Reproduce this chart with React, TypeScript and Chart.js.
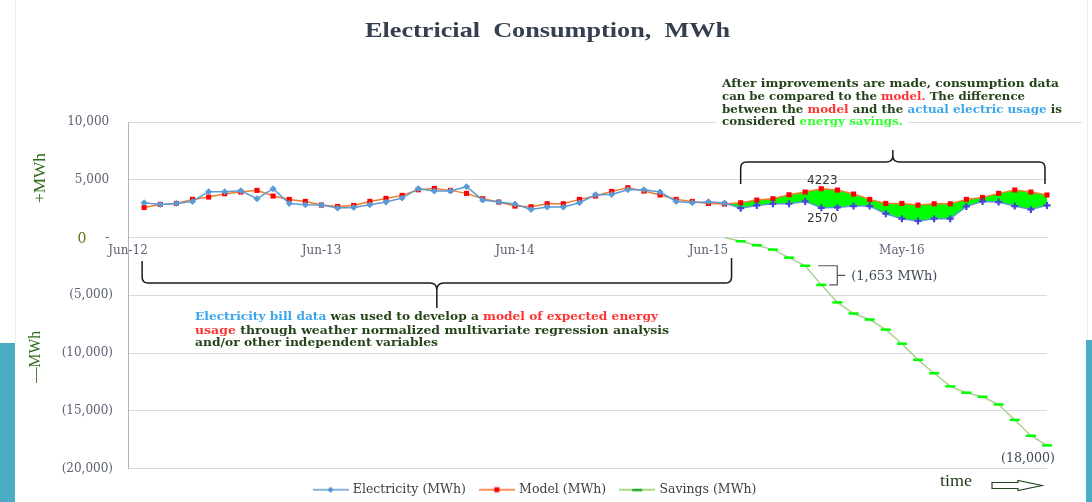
import React, { useEffect, useRef } from "react";
import { Chart, registerables } from "chart.js";

Chart.register(...registerables);

// ---------- data ----------
const categories = [
  "Jun-12", "Jul-12", "Aug-12", "Sep-12", "Oct-12", "Nov-12", "Dec-12",
  "Jan-13", "Feb-13", "Mar-13", "Apr-13", "May-13", "Jun-13", "Jul-13", "Aug-13", "Sep-13", "Oct-13", "Nov-13", "Dec-13",
  "Jan-14", "Feb-14", "Mar-14", "Apr-14", "May-14", "Jun-14", "Jul-14", "Aug-14", "Sep-14", "Oct-14", "Nov-14", "Dec-14",
  "Jan-15", "Feb-15", "Mar-15", "Apr-15", "May-15", "Jun-15", "Jul-15", "Aug-15", "Sep-15", "Oct-15", "Nov-15", "Dec-15",
  "Jan-16", "Feb-16", "Mar-16", "Apr-16", "May-16", "Jun-16", "Jul-16", "Aug-16", "Sep-16", "Oct-16", "Nov-16", "Dec-16",
  "Jan-17", "Feb-17", "Mar-17",
];
const tickIndexes = [0, 12, 24, 36, 48];
const tickLabels = ["Jun-12", "Jun-13", "Jun-14", "Jun-15", "May-16"];

const electricity: (number | null)[] = [
  null, 3010, 2865, 2950, 3125, 3964, 3964, 4050, 3356, 4225, 2951, 2836,
  2807, 2546, 2604, 2836, 3067, 3414, 4225, 4020, 4020, 4400, 3240, 3067,
  2893, 2430, 2633, 2633, 3010, 3700, 3730, 4140, 4140, 3935, 3125, 3010,
  3095, 2980, 2540, 2780, 2920, 2920, 3125, 2570, 2600, 2720, 2720, 2060,
  1630, 1430, 1630, 1630, 2690, 3125, 3067, 2720, 2430, 2780,
];
const model: (number | null)[] = [
  null, 2604, 2865, 2951, 3299, 3501, 3790, 3935, 4080, 3588, 3299, 3125,
  2807, 2690, 2778, 3125, 3385, 3646, 4130, 4250, 4080, 3820, 3356, 3067,
  2720, 2660, 2922, 2922, 3300, 3590, 3990, 4310, 4020, 3680, 3300, 3125,
  2950, 2900, 3010, 3240, 3356, 3700, 3935, 4223, 4110, 3760, 3300, 2950,
  2950, 2807, 2920, 2920, 3300, 3470, 3820, 4110, 3935, 3680,
];
const savings: (number | null)[] = [
  null, null, null, null, null, null, null, null, null, null, null, null,
  null, null, null, null, null, null, null, null, null, null, null, null,
  null, null, null, null, null, null, null, null, null, null, null, null,
  null, 0, -323, -672, -1047, -1745, -2448, -4101, -5620, -6580, -7103, -7976,
  -9197, -10593, -11754, -12888, -13438, -13787, -14459, -15794, -17164, -18000,
];
const postStart = 37;
const labelIndex = 43;
const bracketIndex = 42;

// ---------- styles ----------
const DG = "#25441a";
const RED = "#ff3333";
const BLUE = "#3ba6ea";
const LIME = "#33ff33";
const TICK = "#5d6374";
const GRID = "#d9d9e3";

type Run = { t: string; c: string };

function drawRuns(
  ctx: CanvasRenderingContext2D,
  runs: Run[],
  x: number,
  y: number,
  width: number | null,
  font: string,
  align: "left" | "center" = "left",
) {
  ctx.save();
  ctx.font = font;
  ctx.textBaseline = "middle";
  ctx.textAlign = "left";
  const total = runs.reduce((s, r) => s + ctx.measureText(r.t).width, 0);
  const sx = width ? width / total : 1;
  const startX = align === "center" ? x - (total * sx) / 2 : x;
  ctx.translate(startX, y);
  ctx.scale(sx, 1);
  let cx = 0;
  for (const r of runs) {
    ctx.fillStyle = r.c;
    ctx.fillText(r.t, cx, 0);
    cx += ctx.measureText(r.t).width;
  }
  ctx.restore();
}

function legendImage(lineColor: string, marker: "diamond" | "square" | "dash", markerColor: string) {
  const c = document.createElement("canvas");
  c.width = 36;
  c.height = 12;
  const g = c.getContext("2d")!;
  g.strokeStyle = lineColor;
  g.lineWidth = 1.5;
  g.beginPath();
  g.moveTo(0, 6);
  g.lineTo(36, 6);
  g.stroke();
  g.fillStyle = markerColor;
  if (marker === "diamond") {
    g.beginPath();
    g.moveTo(18, 3);
    g.lineTo(21, 6);
    g.lineTo(18, 9);
    g.lineTo(15, 6);
    g.closePath();
    g.fill();
  } else if (marker === "square") {
    g.fillRect(15.5, 3.5, 5, 5);
  } else {
    g.fillRect(13, 5, 10, 2.5);
  }
  return c;
}

const fmtTick = (v: number) =>
  v === 0 ? "- " : v > 0 ? v.toLocaleString("en-US") + " " : "(" + Math.abs(v).toLocaleString("en-US") + ")";

export default function App() {
  const ref = useRef<HTMLCanvasElement>(null);

  useEffect(() => {
    document.body.style.margin = "0";
    const canvas = ref.current!;
    const postElec = electricity.map((v, i) => (i >= postStart ? v : null));
    const postModel = model.map((v, i) => (i >= postStart ? v : null));

    const legendImgs = [
      legendImage("#5b9bd5", "diamond", "#4f8fd0"),
      legendImage("#ff6a2a", "square", "#ff0000"),
      legendImage("#8fd05a", "dash", "#1faa2a"),
    ];

    const overlay = {
      id: "overlay",
      beforeDraw(chart: any) {
        const ctx = chart.ctx as CanvasRenderingContext2D;
        ctx.save();
        ctx.fillStyle = "#ffffff";
        ctx.fillRect(0, 0, chart.width, chart.height);
        ctx.restore();
      },
      beforeDatasetsDraw(chart: any) {
        const ctx = chart.ctx as CanvasRenderingContext2D;
        const ys = chart.scales.y;
        const area = chart.chartArea;
        const yTop = ys.getPixelForValue(10000);
        ctx.save();
        ctx.strokeStyle = GRID;
        ctx.lineWidth = 1;
        ctx.beginPath();
        ctx.moveTo(area.right, yTop + 0.5);
        ctx.lineTo(1082, yTop + 0.5);
        ctx.stroke();
        ctx.fillStyle = "#ffffff";
        ctx.fillRect(716, yTop - 5, 192, 10);
        ctx.restore();
      },
      afterDraw(chart: any) {
        const ctx = chart.ctx as CanvasRenderingContext2D;
        const xs = chart.scales.x;
        const ys = chart.scales.y;
        ctx.save();

        // side decorations
        ctx.fillStyle = "#4bacc6";
        ctx.fillRect(0, 343, 15, 159);
        ctx.fillRect(1086, 340, 6, 162);
        ctx.strokeStyle = "#ececec";
        ctx.lineWidth = 1;
        ctx.beginPath();
        ctx.moveTo(15.5, 0);
        ctx.lineTo(15.5, 343);
        ctx.moveTo(1087.5, 0);
        ctx.lineTo(1087.5, 340);
        ctx.stroke();

        // title
        drawRuns(ctx, [{ t: "Electricial  Consumption,  MWh", c: "#353f50" }], 547.5, 31, 365,
          'bold 22px "Liberation Serif"', "center");

        // side axis titles
        ctx.save();
        ctx.translate(41, 178);
        ctx.rotate(-Math.PI / 2);
        drawRuns(ctx, [{ t: "+MWh", c: "#2f6b1f" }], 0, 0, 50, '16px "Liberation Serif"', "center");
        ctx.restore();
        ctx.save();
        ctx.translate(36, 357);
        ctx.rotate(-Math.PI / 2);
        drawRuns(ctx, [{ t: "\u2014MWh", c: "#2f6b1f" }], 0, 0, 52, '16px "Liberation Serif"', "center");
        ctx.restore();
        drawRuns(ctx, [{ t: "0", c: "#6b6b10" }], 82, ys.getPixelForValue(0) + 2, null, '14px "DejaVu Serif"', "center");

        // top-right annotation
        const af = 'bold 11.5px "DejaVu Serif"';
        drawRuns(ctx, [{ t: "After improvements are made, consumption data", c: DG }], 722, 84, 337, af);
        drawRuns(ctx, [
          { t: "can be compared to the ", c: DG },
          { t: "model.", c: RED },
          { t: " The difference", c: DG },
        ], 722, 96.7, 303, af);
        drawRuns(ctx, [
          { t: "between the ", c: DG },
          { t: "model", c: RED },
          { t: " and the ", c: DG },
          { t: "actual electric usage", c: BLUE },
          { t: " is", c: DG },
        ], 722, 110, 340, af);
        drawRuns(ctx, [
          { t: "considered ", c: DG },
          { t: "energy savings.", c: LIME },
        ], 722, 122.3, 181, af);

        // bottom-left annotation
        drawRuns(ctx, [
          { t: "Electricity bill data", c: BLUE },
          { t: " was used to develop a ", c: DG },
          { t: "model of expected energy", c: RED },
        ], 195, 316.7, 463, af);
        drawRuns(ctx, [
          { t: "usage", c: RED },
          { t: " through weather normalized multivariate regression analysis", c: DG },
        ], 195, 330.7, 474, af);
        drawRuns(ctx, [{ t: "and/or other independent variables", c: DG }], 195, 343.3, 243, af);

        // braces
        ctx.strokeStyle = "#1a1a1a";
        ctx.lineWidth = 1.5;
        const tl = xs.getPixelForValue(postStart + 1);
        const tr = xs.getPixelForValue(categories.length - 1) - 2;
        const tm = (tl + tr) / 2;
        ctx.beginPath();
        ctx.moveTo(tl, 184);
        ctx.lineTo(tl, 168);
        ctx.quadraticCurveTo(tl, 162, tl + 6, 162);
        ctx.lineTo(tm - 7, 162);
        ctx.quadraticCurveTo(tm, 162, tm, 156);
        ctx.lineTo(tm, 150);
        ctx.moveTo(tm, 156);
        ctx.quadraticCurveTo(tm, 162, tm + 7, 162);
        ctx.lineTo(tr - 6, 162);
        ctx.quadraticCurveTo(tr, 162, tr, 168);
        ctx.lineTo(tr, 184);
        ctx.stroke();

        const bl = xs.getPixelForValue(1) - 2;
        const br = xs.getPixelForValue(postStart) + 7;
        const bm = (bl + br) / 2;
        ctx.beginPath();
        ctx.moveTo(bl, 261);
        ctx.lineTo(bl, 277);
        ctx.quadraticCurveTo(bl, 283, bl + 6, 283);
        ctx.lineTo(bm - 7, 283);
        ctx.quadraticCurveTo(bm, 283, bm, 290);
        ctx.lineTo(bm, 308);
        ctx.moveTo(bm, 290);
        ctx.quadraticCurveTo(bm, 283, bm + 7, 283);
        ctx.lineTo(br - 6, 283);
        ctx.quadraticCurveTo(br, 283, br, 277);
        ctx.lineTo(br, 258);
        ctx.stroke();

        // data labels
        const lx = xs.getPixelForValue(labelIndex) + 1;
        const mv = model[labelIndex] as number;
        const ev = electricity[labelIndex] as number;
        drawRuns(ctx, [{ t: String(mv), c: "#333333" }], lx, ys.getPixelForValue(mv) - 8, null, '12px "DejaVu Sans"', "center");
        drawRuns(ctx, [{ t: String(ev), c: "#333333" }], lx, ys.getPixelForValue(ev) + 11, null, '12px "DejaVu Sans"', "center");

        // savings step bracket
        const s1 = savings[bracketIndex] as number;
        const s2 = savings[bracketIndex + 1] as number;
        const y1 = ys.getPixelForValue(s1);
        const y2 = ys.getPixelForValue(s2);
        const bx = xs.getPixelForValue(bracketIndex + 1) + 16;
        ctx.strokeStyle = "#555555";
        ctx.lineWidth = 1.2;
        ctx.beginPath();
        ctx.moveTo(xs.getPixelForValue(bracketIndex) + 13, y1);
        ctx.lineTo(bx, y1);
        ctx.lineTo(bx, y2);
        ctx.lineTo(bx - 8, y2);
        ctx.moveTo(bx, (y1 + y2) / 2);
        ctx.lineTo(bx + 8, (y1 + y2) / 2);
        ctx.stroke();
        drawRuns(ctx, [{ t: "(" + (s1 - s2).toLocaleString("en-US") + " MWh)", c: "#3d4858" }],
          bx + 14, (y1 + y2) / 2 + 1, 86, '13px "DejaVu Serif"');

        // final savings label
        const last = savings[savings.length - 1] as number;
        const lxp = xs.getPixelForValue(savings.length - 1);
        drawRuns(ctx, [{ t: "(" + Math.abs(last).toLocaleString("en-US") + ")", c: "#3d4858" }],
          lxp - 19, ys.getPixelForValue(last) + 13.5, 54, '13px "DejaVu Serif"', "center");

        // time arrow
        drawRuns(ctx, [{ t: "time", c: "#1f3a14" }], 956, 481.5, 32, '16px "Liberation Serif"', "center");
        ctx.strokeStyle = "#1f4a1f";
        ctx.fillStyle = "#ffffff";
        ctx.lineWidth = 1.2;
        ctx.beginPath();
        ctx.moveTo(992, 482.5);
        ctx.lineTo(1018, 482.5);
        ctx.lineTo(1018, 480.5);
        ctx.lineTo(1042, 485.5);
        ctx.lineTo(1018, 490.5);
        ctx.lineTo(1018, 488.5);
        ctx.lineTo(992, 488.5);
        ctx.closePath();
        ctx.fill();
        ctx.stroke();

        ctx.restore();
      },
    };

    const chart = new Chart(canvas, {
      type: "line",
      data: {
        labels: categories,
        datasets: [
          {
            label: "Electricity (MWh)",
            data: electricity,
            borderColor: "#5b9bd5",
            borderWidth: 1.5,
            tension: 0,
            clip: false,
            pointStyle: (c: any) => (c.dataIndex > postStart ? "cross" : "rectRot"),
            pointRadius: (c: any) => (c.dataIndex > postStart ? 3.5 : 3),
            pointBackgroundColor: (c: any) => (c.dataIndex > postStart ? "#4646d6" : "#5b9bd5"),
            pointBorderColor: (c: any) => (c.dataIndex > postStart ? "#4646d6" : "#5b9bd5"),
            pointBorderWidth: (c: any) => (c.dataIndex > postStart ? 2.2 : 1),
          } as any,
          {
            label: "Model (MWh)",
            data: model,
            borderColor: "#ed7d31",
            borderWidth: 1.5,
            tension: 0,
            clip: false,
            pointStyle: "rect",
            pointRadius: 3.6,
            pointBackgroundColor: "#ff0000",
            pointBorderColor: "#ff0000",
            pointBorderWidth: 0,
          } as any,
          {
            label: "Savings (MWh)",
            data: savings,
            borderColor: "#a9d18e",
            borderWidth: 1.5,
            tension: 0,
            clip: false,
            pointStyle: "line",
            pointRadius: (c: any) => (c.dataIndex === postStart ? 0 : 5),
            pointBorderColor: "#00ff00",
            pointBorderWidth: 2.5,
          } as any,
          {
            label: "post-electricity",
            data: postElec,
            borderColor: "rgba(0,0,0,0)",
            borderWidth: 0,
            pointRadius: 0,
            fill: false,
            tension: 0,
          } as any,
          {
            label: "post-model",
            data: postModel,
            borderColor: "rgba(0,0,0,0)",
            borderWidth: 0,
            pointRadius: 0,
            backgroundColor: "#00ff00",
            fill: 3,
            tension: 0,
          } as any,
        ],
      },
      options: {
        responsive: false,
        animation: false,
        devicePixelRatio: 1,
        events: [],
        layout: { padding: { top: 122, right: 45, bottom: -4, left: 24 } },
        scales: {
          x: {
            position: { y: 0 } as any,
            offset: false,
            border: { color: GRID, width: 1 },
            grid: {
              drawTicks: false,
              color: (c: any) => (tickIndexes.indexOf(c.index) >= 0 ? GRID : "rgba(0,0,0,0)"),
            },
            ticks: {
              autoSkip: false,
              maxRotation: 0,
              padding: 6,
              color: TICK,
              font: { family: "DejaVu Serif", size: 12 },
              callback: (_v: any, i: number) => {
                const k = tickIndexes.indexOf(i);
                return k >= 0 ? tickLabels[k] : null;
              },
            },
          },
          y: {
            min: -20000,
            max: 10000,
            border: { color: "#b3b3c6", width: 1 },
            grid: { color: GRID, drawTicks: false },
            ticks: {
              stepSize: 5000,
              padding: 15,
              color: TICK,
              font: { family: "DejaVu Serif", size: 12 },
              callback: (v: any) => fmtTick(Number(v)),
            },
            afterFit: (s: any) => {
              s.width = 104;
            },
          },
        },
        plugins: {
          filler: { drawTime: "beforeDatasetsDraw" },
          tooltip: { enabled: false },
          title: { display: false },
          legend: {
            display: true,
            position: "bottom",
            labels: {
              usePointStyle: true,
              pointStyleWidth: 32,
              boxHeight: 10,
              padding: 15,
              color: "#404040",
              font: { family: "DejaVu Serif", size: 12.5 },
              filter: (item: any) => item.datasetIndex < 3,
              generateLabels: (ch: any) =>
                ch.data.datasets.slice(0, 3).map((d: any, i: number) => ({
                  text: d.label,
                  datasetIndex: i,
                  pointStyle: legendImgs[i],
                  fillStyle: "rgba(0,0,0,0)",
                  strokeStyle: "rgba(0,0,0,0)",
                  lineWidth: 0,
                  hidden: false,
                  fontColor: "#404040",
                })),
            },
          },
        },
      },
      plugins: [overlay],
    } as any);

    return () => chart.destroy();
  }, []);

  return (
    <div style={{ position: "absolute", left: 0, top: 0, width: 1092, height: 502, background: "#ffffff" }}>
      <canvas ref={ref} width={1092} height={502} style={{ display: "block", width: 1092, height: 502 }} />
    </div>
  );
}
